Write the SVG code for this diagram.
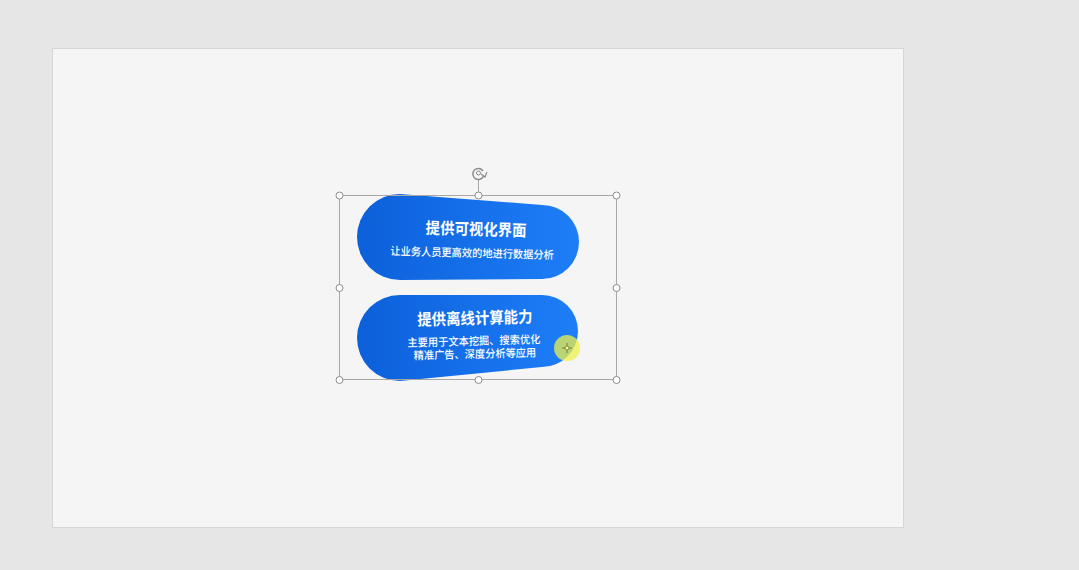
<svg xmlns="http://www.w3.org/2000/svg" width="1079" height="570" viewBox="0 0 1079 570">
<defs>
<linearGradient id="g" x1="0" y1="0" x2="1" y2="0">
<stop offset="0" stop-color="#0c60da"/>
<stop offset="1" stop-color="#1d7ef8"/>
</linearGradient>
<style>
.t{font-family:"Noto Sans CJK SC","Noto Sans",sans-serif;fill:#fff;text-anchor:middle}
.h{font-size:16px;font-weight:700}
.s{font-size:11px;font-weight:500}
.hd{fill:#fff;stroke:#8c8c8c;stroke-width:1}
</style>
</defs>
<rect width="1079" height="570" fill="#e6e6e6"/>
<rect x="52.5" y="48.5" width="851" height="479" fill="#f5f5f5" stroke="#d6d6d6"/>
<g id="node1">
<path d="M400,194 L542,205 A37 37 0 0 1 542,279 L400,280 A43 43 0 0 1 400,194 Z" fill="url(#g)"/>
<text class="t h" transform="translate(476 235) rotate(1.5) scale(0.9 1)">提供可视化界面</text>
<text class="t s" transform="translate(472 257) rotate(1.5) scale(0.93 1)">让业务人员更高效的地进行数据分析</text>
</g>
<g id="node2">
<path d="M400,295 L542,295 A36 36 0 0 1 542,367 L400,381 A43 43 0 0 1 400,295 Z" fill="url(#g)"/>
<text class="t h" transform="translate(475 324) rotate(-1.5) scale(0.9 1)">提供离线计算能力</text>
<text class="t s" transform="translate(474 345) rotate(-1.5) scale(0.93 1)">主要用于文本挖掘、搜索优化</text>
<text class="t s" transform="translate(475 358) rotate(-1.5) scale(0.93 1)">精准广告、深度分析等应用</text>
</g>
<g id="selection">
<rect x="339.5" y="195.5" width="277" height="184" fill="none" stroke="#a8a8a8" stroke-width="1"/>
<line x1="478.5" y1="179" x2="478.5" y2="195" stroke="#a8a8a8"/>
<circle class="hd" cx="339.5" cy="195.5" r="3.5"/>
<circle class="hd" cx="478.5" cy="195.5" r="3.5"/>
<circle class="hd" cx="616.5" cy="195.5" r="3.5"/>
<circle class="hd" cx="339.5" cy="288" r="3.5"/>
<circle class="hd" cx="616.5" cy="288" r="3.5"/>
<circle class="hd" cx="339.5" cy="380" r="3.5"/>
<circle class="hd" cx="478.5" cy="380" r="3.5"/>
<circle class="hd" cx="616.5" cy="380" r="3.5"/>
<path d="M483,171 A5.5 5.5 0 1 0 483.5,176" fill="none" stroke="#8c8c8c" stroke-width="1.5"/>
<path d="M481,174 L485,177 L487,172" fill="none" stroke="#8c8c8c" stroke-width="1.2"/>
<circle cx="478.5" cy="173" r="2" fill="none" stroke="#8c8c8c"/>
</g>
<g id="cursor">
<circle cx="567" cy="348" r="13" fill="#eef04a" fill-opacity="0.75"/>
<path d="M567,343 V353 M562,348 H572" stroke="#7a7a30" stroke-width="1"/>
<circle cx="567" cy="348" r="2" fill="#f5f5a0" stroke="#7a7a30" stroke-width="0.8"/>
</g>
</svg>
